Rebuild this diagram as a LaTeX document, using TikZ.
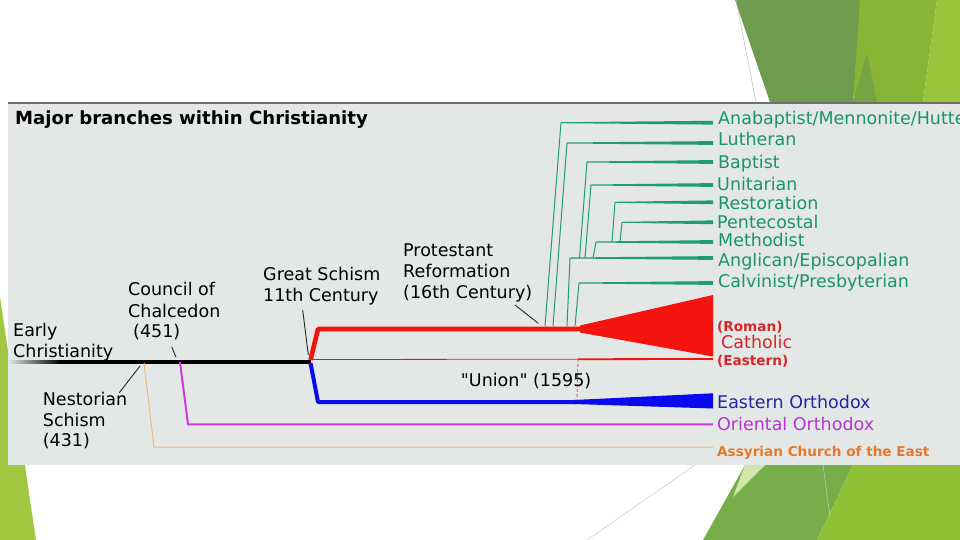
\documentclass[tikz,border=0pt]{standalone}
\usepackage{fontspec}
\setmainfont{DejaVu Sans}[Ligatures=TeXOff]
\definecolor{panelbg}{HTML}{E3E8E6}
\definecolor{panelbd}{HTML}{6E6E6E}
\definecolor{protgreen}{HTML}{1F9E6E}
\definecolor{protgreentx}{HTML}{1A9468}
\definecolor{romred}{HTML}{F5130F}
\definecolor{romredtx}{HTML}{D6252A}
\definecolor{eoblue}{HTML}{0A0AEE}
\definecolor{eobluetx}{HTML}{2424A6}
\definecolor{oomag}{HTML}{CC3ADB}
\definecolor{oomagtx}{HTML}{B236D2}
\definecolor{acoline}{HTML}{F2B97C}
\definecolor{acotx}{HTML}{E6792C}
\definecolor{gDark}{HTML}{6E9B4E}
\definecolor{gMid}{HTML}{88B536}
\definecolor{gOver}{HTML}{76A343}
\definecolor{gLight}{HTML}{99C53C}
\definecolor{gLeft}{HTML}{A0C740}
\definecolor{gBotDark}{HTML}{78AE49}
\definecolor{gBotLight}{HTML}{8FC035}
\definecolor{gPale}{HTML}{D2E5AC}
\newcommand\gbr[5]{%
  \coordinate (#1-a) at (#2,#3);
  \coordinate (#1-b) at (#4,#5);
  \coordinate (#1-e) at (713,#5);
  \draw[protline] (#1-a) -- (#1-b);
  \fill[protgreen] (#4,#5-0.5) -- (713,#5-1.9) -- (713,#5+1.9) -- (#4,#5+0.5) -- cycle;
}
\begin{document}
\begin{tikzpicture}[x=1pt,y=-1pt,
  lab/.style={anchor=base west, inner sep=0pt, font=\fontsize{17.5}{20}\selectfont},
  glab/.style={lab, text=protgreentx},
  sblab/.style={anchor=base west, inner sep=0pt, font=\fontsize{13.6}{16}\selectfont\bfseries},
  protline/.style={draw=protgreen, line width=1pt},
  pointer/.style={draw=black!85, line width=0.9pt},
  line join=round]
\useasboundingbox (0,0) rectangle (960,540);
\fill[white] (0,0) rectangle (960,540);
% background decoration
\fill[gLeft] (0,297) -- (36,540) -- (0,540) -- cycle;
\fill[gDark] (735,0) -- (862,0) -- (853,102) -- (770,102) -- cycle;
\fill[gMid] (860,0) -- (937,0) -- (923,102) -- (853,102) -- cycle;
\fill[gOver] (853,102) -- (867,53) -- (877,102) -- cycle;
\fill[gLight] (937,0) -- (960,0) -- (960,102) -- (923,102) -- cycle;
\draw[black!25, line width=0.5pt] (736,0) -- (756,102);
\fill[gBotDark] (745,465) -- (853,465) -- (817,540) -- (703,540) -- cycle;
\fill[gBotLight] (853,465) -- (960,465) -- (960,540) -- (817,540) -- cycle;
\fill[gPale] (745,465) -- (765,465) -- (733,497) -- cycle;
\draw[black!20, line width=0.5pt] (823,465) -- (830,517);
\draw[black!22, line width=0.5pt] (587,540) -- (695,465);
% panel
\fill[panelbg] (8,102) rectangle (960,465);
\draw[panelbd, line width=2.2pt] (8,103) -- (960,103);
\node[anchor=base west, inner sep=0pt, font=\fontsize{18.1}{20}\selectfont\bfseries] (title) at (15,125) {Major branches within Christianity};
% key coordinates
\coordinate (ecfade) at (60,362);
\coordinate (gs) at (311,362);
\coordinate (nest) at (144,363);
\coordinate (chal) at (180,362);
% early christianity line
\shade[left color=panelbg, right color=black] (8,360.2) rectangle (60,363.8);
\draw[black, line width=3.6pt] (ecfade) -- (gs);
% Assyrian
\coordinate (aco1) at (154,447);
\coordinate (acoend) at (713,447);
\draw[acoline, line width=1pt] (nest) -- (aco1) -- (acoend);
% Oriental Orthodox
\coordinate (oo1) at (188,424.3);
\coordinate (ooend) at (713,424.3);
\draw[oomag, line width=2pt] (chal) -- (oo1) -- (ooend);
% Eastern Orthodox
\coordinate (eo0) at (310.5,363);
\coordinate (eo1) at (318,402);
\coordinate (eo2) at (576,402);
\draw[eoblue, line width=4pt] (eo0) -- (eo1) -- (eo2);
\fill[eoblue] (574,400) -- (713,393.3) -- (713,408.5) -- (574,404) -- cycle;
% Eastern Catholic thin line
\coordinate (ec0) at (310.5,359.5);
\coordinate (ec1) at (578,359.2);
\coordinate (ecend) at (713,359);
\draw[romred, line width=0.8pt] (ec0) -- (ec1);
\draw[romred, line width=1.8pt] (ec1) -- (ecend);
\coordinate (union) at (577,400);
\draw[romred!80, line width=0.8pt, densely dashed] (ec1) -- (union);
% Roman Catholic
\coordinate (rc0) at (310.5,360);
\coordinate (rc1) at (318,329);
\coordinate (rc2) at (582,329);
\draw[romred, line width=4.6pt] (rc0) -- (rc1) -- (rc2);
\fill[romred] (580,325.5) -- (713,295) -- (713,356.5) -- (580,332.5) -- cycle;
% Protestant branches
\gbr{anab}{545}{326}{561}{122.7}
\gbr{luth}{553}{326}{567}{143}
\gbr{angl}{567}{326}{570}{258}
\gbr{calv}{575}{326}{579}{283}
\gbr{bapt}{579.5}{258}{587}{162}
\gbr{unit}{585}{258}{591}{185}
\gbr{meth}{593}{258}{596}{242}
\gbr{rest}{612}{242}{615}{202.3}
\gbr{pent}{620}{242}{622}{222.3}
% pointers
\coordinate (pc1) at (171.7,346.7); \coordinate (pc2) at (176,357.3);
\draw[pointer] (pc1) -- (pc2);
\coordinate (pg1) at (302.7,310); \coordinate (pg2) at (308.3,355);
\draw[pointer] (pg1) -- (pg2);
\coordinate (pn1) at (140,366); \coordinate (pn2) at (119.3,392.7);
\draw[pointer] (pn1) -- (pn2);
\coordinate (pp1) at (515,305); \coordinate (pp2) at (538.3,323.3);
\draw[pointer] (pp1) -- (pp2);
% black labels
\node[lab] (early1) at (13,336.7) {Early};
\node[lab] (early2) at (13,357.3) {Christianity};
\node[lab] (coc1) at (128,295) {Council of};
\node[lab] (coc2) at (128,317.3) {Chalcedon};
\node[lab] (coc3) at (133,337) {(451)};
\node[lab] (gs1) at (263,280) {Great Schism};
\node[lab] (gs2) at (263,301.5) {11th Century};
\node[lab] (pr1) at (403,256.7) {Protestant};
\node[lab] (pr2) at (403,277.3) {Reformation};
\node[lab] (pr3) at (403,298) {(16th Century)};
\node[lab] (ns1) at (42.7,405.7) {Nestorian};
\node[lab] (ns2) at (42.7,426.7) {Schism};
\node[lab] (ns3) at (42.7,446) {(431)};
\node[lab] (un) at (460.7,386) {"Union" (1595)};
% right labels
\begin{scope}
\clip (8,102) rectangle (960,465);
\node[glab] (l-anab) at (718,125) {Anabaptist/Mennonite/Hutterite};
\end{scope}
\node[glab] (l-luth) at (718,146) {Lutheran};
\node[glab] (l-bapt) at (718,168) {Baptist};
\node[glab] (l-unit) at (717,190.7) {Unitarian};
\node[glab] (l-rest) at (718,209.3) {Restoration};
\node[glab] (l-pent) at (717,228.3) {Pentecostal};
\node[glab] (l-meth) at (718,246.7) {Methodist};
\node[glab] (l-angl) at (718,266) {Anglican/Episcopalian};
\node[glab] (l-calv) at (718,287.3) {Calvinist/Presbyterian};
\node[sblab, text=romredtx] (l-rom) at (717,331.5) {(Roman)};
\node[lab, text=romredtx] (l-cath) at (721,348.3) {Catholic};
\node[sblab, text=romredtx] (l-east) at (717,365) {(Eastern)};
\node[lab, text=eobluetx] (l-eo) at (717,408.3) {Eastern Orthodox};
\node[lab, text=oomagtx] (l-oo) at (717,430.7) {Oriental Orthodox};
\node[sblab, text=acotx] (l-aco) at (717,456) {Assyrian Church of the East};
\end{tikzpicture}
\end{document}
